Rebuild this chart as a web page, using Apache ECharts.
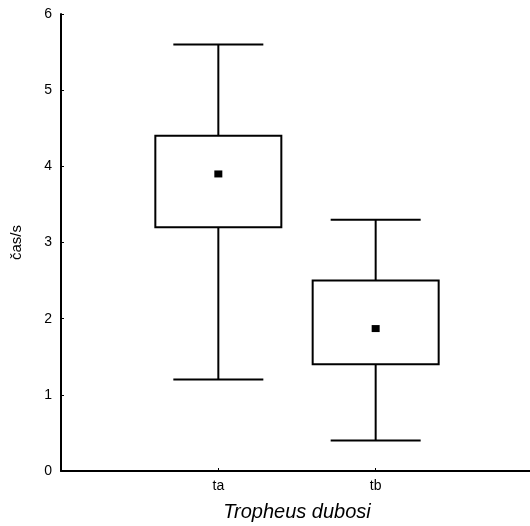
<!DOCTYPE html>
<html>
<head>
<meta charset="utf-8">
<script src="https://cdn.jsdelivr.net/npm/echarts@6/dist/echarts.min.js"></script>
<style>
  html, body { margin: 0; padding: 0; background: #fff; }
  #main { width: 530px; height: 526px; }
</style>
</head>
<body>
<div id="main"></div>
<script>
  // box statistics
  var categories = ['ta', 'tb'];
  var whiskerLow = [1.2, 0.4];
  var boxLow = [3.2, 1.4];
  var boxHigh = [4.4, 2.5];
  var whiskerHigh = [5.6, 3.3];
  var means = [3.9, 1.87];
  var yTicks = [0, 1, 2, 3, 4, 5, 6];

  var axisData = [''].concat(categories).concat(['']);
  var boxData = categories.map(function (c, i) {
    return [i + 1, whiskerLow[i], boxLow[i], boxHigh[i], whiskerHigh[i], means[i]];
  });

  var myChart = echarts.init(document.getElementById('main'));

  function renderBox(params, api) {
    var x = api.value(0);
    var pLow = api.coord([x, api.value(1)]);
    var pQ1 = api.coord([x, api.value(2)]);
    var pQ3 = api.coord([x, api.value(3)]);
    var pHigh = api.coord([x, api.value(4)]);
    var pMean = api.coord([x, api.value(5)]);
    var boxHalf = 63;
    var capHalf = 45;
    var line = { stroke: '#000', lineWidth: 2, fill: null };
    return {
      type: 'group',
      children: [
        { type: 'line', shape: { x1: pHigh[0], y1: pHigh[1], x2: pQ3[0], y2: pQ3[1] }, style: line },
        { type: 'line', shape: { x1: pLow[0], y1: pLow[1], x2: pQ1[0], y2: pQ1[1] }, style: line },
        { type: 'line', shape: { x1: pHigh[0] - capHalf, y1: pHigh[1], x2: pHigh[0] + capHalf, y2: pHigh[1] }, style: line },
        { type: 'line', shape: { x1: pLow[0] - capHalf, y1: pLow[1], x2: pLow[0] + capHalf, y2: pLow[1] }, style: line },
        { type: 'rect', shape: { x: pQ3[0] - boxHalf, y: pQ3[1], width: boxHalf * 2, height: pQ1[1] - pQ3[1] },
          style: { stroke: '#000', lineWidth: 2, fill: '#fff' } },
        { type: 'rect', shape: { x: pMean[0] - 4, y: pMean[1] - 3.5, width: 8, height: 7 },
          style: { fill: '#000' } }
      ]
    };
  }

  var option = {
    animation: false,
    backgroundColor: '#fff',
    textStyle: { fontFamily: 'Liberation Sans', color: '#000' },
    grid: {
      left: 61,
      right: -3,
      top: 14,
      bottom: 55,
      containLabel: false,
      outerBoundsMode: 'none'
    },
    xAxis: {
      type: 'category',
      data: axisData,
      boundaryGap: false,
      name: 'Tropheus dubosi',
      nameLocation: 'middle',
      nameGap: 31,
      nameTextStyle: { fontSize: 20, fontStyle: 'italic', color: '#000', fontFamily: 'Liberation Sans' },
      axisLine: { lineStyle: { color: '#000', width: 2 } },
      axisTick: {
        inside: true,
        length: 3,
        interval: function (i) { return i > 0 && i < axisData.length - 1; },
        lineStyle: { color: '#000', width: 1 }
      },
      axisLabel: { color: '#000', fontSize: 14, margin: 8, interval: 0 },
      splitLine: { show: false }
    },
    yAxis: {
      type: 'value',
      min: yTicks[0],
      max: yTicks[yTicks.length - 1],
      interval: 1,
      name: 'čas/s',
      nameLocation: 'middle',
      nameGap: 37,
      nameTextStyle: { fontSize: 15, color: '#000', fontFamily: 'Liberation Sans' },
      axisLine: { show: true, lineStyle: { color: '#000', width: 2 } },
      axisTick: { show: true, inside: true, length: 3, lineStyle: { color: '#000', width: 1 } },
      axisLabel: { color: '#000', fontSize: 14, margin: 9 },
      splitLine: { show: false }
    },
    series: [{
      type: 'custom',
      renderItem: renderBox,
      data: boxData,
      encode: { x: 0, y: [1, 2, 3, 4, 5] }
    }]
  };

  myChart.setOption(option);
</script>
</body>
</html>
